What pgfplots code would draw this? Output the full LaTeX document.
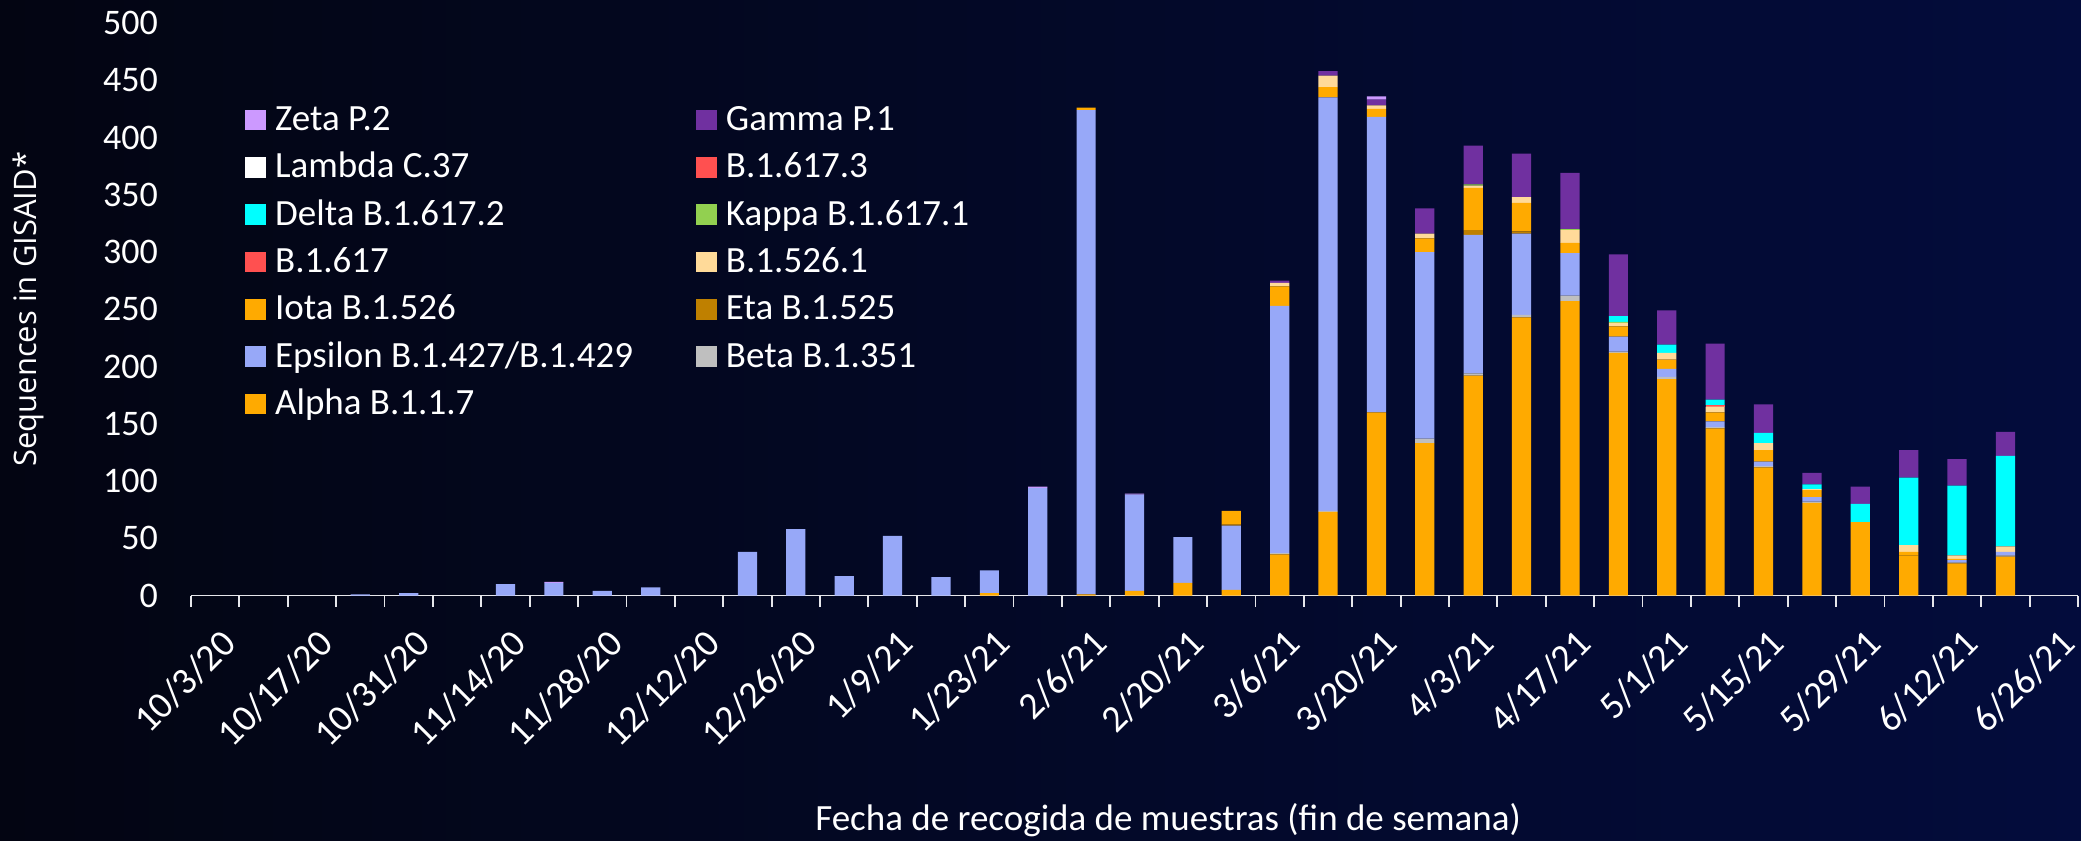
\documentclass[border=0pt]{standalone}
\usepackage{fontspec}
\setmainfont{Carlito}
\newfontfamily\ylabfont{Open Sans}
\usepackage{pgfplots}
\usepackage{pgfplotstable}
\pgfplotsset{compat=1.18}

\definecolor{bgL}{RGB}{3,5,18}
\definecolor{bgR}{RGB}{3,12,60}
\definecolor{axcol}{RGB}{230,230,235}
\definecolor{cAlpha}{RGB}{255,170,0}
\definecolor{cBeta}{RGB}{191,191,191}
\definecolor{cEps}{RGB}{151,168,248}
\definecolor{cEta}{RGB}{191,128,0}
\definecolor{cIota}{RGB}{255,170,0}
\definecolor{cBfive}{RGB}{255,218,153}
\definecolor{cBsix}{RGB}{255,80,80}
\definecolor{cKappa}{RGB}{146,208,80}
\definecolor{cDelta}{RGB}{0,255,255}
\definecolor{cBsixthree}{RGB}{255,80,80}
\definecolor{cLambda}{RGB}{255,255,255}
\definecolor{cGamma}{RGB}{112,48,160}
\definecolor{cZeta}{RGB}{204,153,255}

\pgfplotstableread{
x alpha beta eps eta iota bfive bsix kappa delta bsixthree lambda gamma zeta
0 0 0 0 0 0 0 0 0 0 0 0 0 0
1 0 0 0 0 0 0 0 0 0 0 0 0 0
2 0 0 0 0 0 0 0 0 0 0 0 0 0
3 0 0 1 0 0 0 0 0 0 0 0 0 0
4 0 0 2 0 0 0 0 0 0 0 0 0 0
5 0 0 0 0 0 0 0 0 0 0 0 0 0
6 0 0 10 0 0 0 0 0 0 0 0 0 0
7 0 0 11 0 0 0 0 0 0 0 0 0 1
8 0 0 4 0 0 0 0 0 0 0 0 0 0
9 0 0 7 0 0 0 0 0 0 0 0 0 0
10 0 0 0 0 0 0 0 0 0 0 0 0 0
11 0 0 38 0 0 0 0 0 0 0 0 0 0
12 0 0 58 0 0 0 0 0 0 0 0 0 0
13 0 0 17 0 0 0 0 0 0 0 0 0 0
14 0 0 52 0 0 0 0 0 0 0 0 0 0
15 0 0 16 0 0 0 0 0 0 0 0 0 0
16 2 0 20 0 0 0 0 0 0 0 0 0 0
17 0 0 94 0 0 0 0 0 0 0 0 0 1
18 1 0 423 0 2 0 0 0 0 0 0 0 0
19 4 0 84 0 0 0 0 0 0 0 0 0 1
20 11 0 40 0 0 0 0 0 0 0 0 0 0
21 5 0 56 1 12 0 0 0 0 0 0 0 0
22 36 1 216 0 17 3 0 0 0 0 0 2 0
23 73 1 361 0 9 10 0 0 0 0 0 4 0
24 160 0 258 0 7 3 0 0 0 0 0 5 3
25 133 4 163 0 12 4 0 0 0 0 0 22 0
26 192 2 121 4 37 2 0 1 0 0 0 34 0
27 243 2 71 2 25 5 0 0 0 0 0 38 0
28 257 5 37 0 9 11 0 1 0 0 0 49 0
29 212 1 13 0 9 3 0 1 5 0 0 54 0
30 189 2 7 0 8 6 0 0 7 0 0 30 0
31 146 1 5 0 8 5 1 0 5 0 0 49 0
32 112 1 4 0 10 6 0 0 9 0 0 25 0
33 81 1 4 0 6 1 0 0 4 0 0 10 0
34 59 0 0 0 5 0 0 0 16 0 0 15 0
35 35 0 0 0 3 6 0 0 59 0 0 24 0
36 28 1 2 0 1 3 0 0 61 0 0 23 0
37 34 1 3 0 0 5 0 0 79 0 0 21 0
38 0 0 0 0 0 0 0 0 0 0 0 0 0
}\datatable

\pgfplotsset{
  sqlegend/.style={legend image code/.code={\fill[##1] (0pt,0pt) rectangle (10.4pt,10.4pt);}},
  stk/.style={fill=#1, draw=none},
}
\tikzset{xlab/.style={xshift=9.3pt, yshift=-22.8pt, font=\fontsize{19}{20}\selectfont, text=white, inner sep=0pt, text height=0.65em, text depth=0pt, rotate=45, anchor=east}}

\begin{document}
\begin{tikzpicture}
\useasboundingbox (-95.5pt,-122.25pt) rectangle (945pt,297.75pt);
\shade[left color=bgL, right color=bgR] (-95.5pt,-122.25pt) rectangle (945pt,297.75pt);
\begin{axis}[
  at={(0pt,0pt)}, anchor=south west,
  scale only axis, width=943.5pt, height=286.25pt,
  clip=false,
  ybar stacked, bar width=9.6pt,
  xmin=-0.5, xmax=38.5, ymin=0, ymax=500,
  axis x line*=bottom, axis y line*=left,
  x axis line style={axcol, line width=0.9pt, -},
  y axis line style={draw=none},
  xtick={0,2,...,38},
  xticklabels={},
  minor xtick={-0.5,0.5,...,38.5},
  tick align=outside,
  major tick length=0pt,
  minor tick length=5.5pt,
  major x tick style={draw=none},
  minor x tick style={axcol, line width=0.9pt},
  ytick={0,50,...,500},
  ytick style={draw=none},
  /pgf/number format/assume math mode=true,
  yticklabel style={font=\fontsize{18}{20}\selectfont, text=white, xshift=-13pt},
  xlabel={Fecha de recogida de muestras (fin de semana)},
  xlabel style={font=\fontsize{18.5}{20}\selectfont, text=white, at={(axis description cs:0.5178,-0.392)}, anchor=center},
  ylabel={Sequences in GISAID*},
  ylabel style={font=\ylabfont\fontsize{15.5}{18}\selectfont, text=white, at={(axis description cs:-0.086,0.5)}, anchor=center},
  legend columns=2,
  legend style={at={(axis description cs:0.0286,0.8585)}, anchor=north west, draw=none, fill=none, inner sep=0pt,
    font=\fontsize{18.5}{20}\selectfont, text=white,
    cells={anchor=base west},
    nodes={inner sep=0pt, text height=13pt, text depth=4pt},
    row sep=6.67pt,
    /tikz/every odd column/.append style={column sep=4.5pt},
    /tikz/every even column/.append style={column sep=31.5pt}},
]
\addplot+[stk=cAlpha, forget plot] table[x=x,y=alpha]{\datatable};
\addplot+[stk=cBeta, forget plot] table[x=x,y=beta]{\datatable};
\addplot+[stk=cEps, forget plot] table[x=x,y=eps]{\datatable};
\addplot+[stk=cEta, forget plot] table[x=x,y=eta]{\datatable};
\addplot+[stk=cIota, forget plot] table[x=x,y=iota]{\datatable};
\addplot+[stk=cBfive, forget plot] table[x=x,y=bfive]{\datatable};
\addplot+[stk=cBsix, forget plot] table[x=x,y=bsix]{\datatable};
\addplot+[stk=cKappa, forget plot] table[x=x,y=kappa]{\datatable};
\addplot+[stk=cDelta, forget plot] table[x=x,y=delta]{\datatable};
\addplot+[stk=cBsixthree, forget plot] table[x=x,y=bsixthree]{\datatable};
\addplot+[stk=cLambda, forget plot] table[x=x,y=lambda]{\datatable};
\addplot+[stk=cGamma, forget plot] table[x=x,y=gamma]{\datatable};
\addplot+[stk=cZeta, forget plot] table[x=x,y=zeta]{\datatable};

\addlegendimage{sqlegend, fill=cZeta, draw=none}\addlegendentry{Zeta P.2}
\addlegendimage{sqlegend, fill=cGamma, draw=none}\addlegendentry{Gamma P.1}
\addlegendimage{sqlegend, fill=cLambda, draw=none}\addlegendentry{Lambda C.37}
\addlegendimage{sqlegend, fill=cBsixthree, draw=none}\addlegendentry{B.1.617.3}
\addlegendimage{sqlegend, fill=cDelta, draw=none}\addlegendentry{Delta B.1.617.2}
\addlegendimage{sqlegend, fill=cKappa, draw=none}\addlegendentry{Kappa B.1.617.1}
\addlegendimage{sqlegend, fill=cBsix, draw=none}\addlegendentry{B.1.617}
\addlegendimage{sqlegend, fill=cBfive, draw=none}\addlegendentry{B.1.526.1}
\addlegendimage{sqlegend, fill=cIota, draw=none}\addlegendentry{Iota B.1.526}
\addlegendimage{sqlegend, fill=cEta, draw=none}\addlegendentry{Eta B.1.525}
\addlegendimage{sqlegend, fill=cEps, draw=none}\addlegendentry{Epsilon B.1.427/B.1.429}
\addlegendimage{sqlegend, fill=cBeta, draw=none}\addlegendentry{Beta B.1.351}
\addlegendimage{sqlegend, fill=cAlpha, draw=none}\addlegendentry{Alpha B.1.1.7}

\node[xlab] at (axis cs:0,0) {10/3/20};
\node[xlab] at (axis cs:2,0) {10/17/20};
\node[xlab] at (axis cs:4,0) {10/31/20};
\node[xlab] at (axis cs:6,0) {11/14/20};
\node[xlab] at (axis cs:8,0) {11/28/20};
\node[xlab] at (axis cs:10,0) {12/12/20};
\node[xlab] at (axis cs:12,0) {12/26/20};
\node[xlab] at (axis cs:14,0) {1/9/21};
\node[xlab] at (axis cs:16,0) {1/23/21};
\node[xlab] at (axis cs:18,0) {2/6/21};
\node[xlab] at (axis cs:20,0) {2/20/21};
\node[xlab] at (axis cs:22,0) {3/6/21};
\node[xlab] at (axis cs:24,0) {3/20/21};
\node[xlab] at (axis cs:26,0) {4/3/21};
\node[xlab] at (axis cs:28,0) {4/17/21};
\node[xlab] at (axis cs:30,0) {5/1/21};
\node[xlab] at (axis cs:32,0) {5/15/21};
\node[xlab] at (axis cs:34,0) {5/29/21};
\node[xlab] at (axis cs:36,0) {6/12/21};
\node[xlab] at (axis cs:38,0) {6/26/21};
\end{axis}
\end{tikzpicture}
\end{document}
